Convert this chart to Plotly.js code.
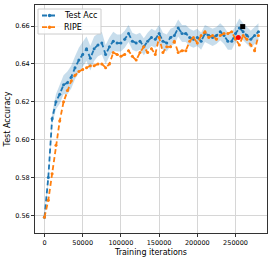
<!DOCTYPE html>
<html><head><meta charset="utf-8">
<script src="https://cdn.plot.ly/plotly-3.0.1.min.js"></script>
<style>html,body{margin:0;padding:0;background:#fff}</style>
</head><body><div id="chart" style="width:274px;height:257px"></div>
<script>
const iterations = [0,5000,10000,15000,20000,25000,30000,35000,40000,45000,50000,55000,60000,65000,70000,75000,80000,85000,90000,95000,100000,105000,110000,115000,120000,125000,130000,135000,140000,145000,150000,155000,160000,165000,170000,175000,180000,185000,190000,195000,200000,205000,210000,215000,220000,225000,230000,235000,240000,245000,250000,255000,260000,265000,270000,275000,280000];
const testAcc = [0.559,0.580,0.611,0.620,0.624,0.629,0.630,0.633,0.638,0.642,0.645,0.648,0.643,0.648,0.650,0.651,0.645,0.649,0.652,0.651,0.651,0.653,0.656,0.652,0.651,0.652,0.649,0.652,0.654,0.653,0.656,0.652,0.651,0.654,0.655,0.659,0.656,0.656,0.654,0.653,0.654,0.652,0.656,0.655,0.654,0.655,0.657,0.655,0.652,0.652,0.656,0.659,0.657,0.655,0.653,0.655,0.657];
const testAccStd = [0.001,0.002,0.003,0.004,0.005,0.005,0.006,0.006,0.006,0.0065,0.0065,0.0065,0.0065,0.0065,0.006,0.006,0.005,0.005,0.005,0.0045,0.0045,0.0045,0.0045,0.0045,0.0045,0.0045,0.0045,0.0045,0.0045,0.0045,0.0045,0.0045,0.0045,0.0045,0.0045,0.0045,0.0045,0.0045,0.0045,0.0045,0.0045,0.0045,0.0045,0.0045,0.0045,0.0045,0.0045,0.0045,0.0045,0.0045,0.0045,0.005,0.0045,0.0045,0.0045,0.0045,0.0045];
const ripe = [0.559,0.568,0.582,0.597,0.610,0.620,0.626,0.631,0.634,0.636,0.637,0.638,0.639,0.639,0.640,0.640,0.638,0.640,0.646,0.645,0.644,0.645,0.647,0.644,0.642,0.646,0.649,0.646,0.648,0.645,0.654,0.646,0.649,0.649,0.652,0.646,0.647,0.647,0.652,0.654,0.651,0.655,0.657,0.654,0.655,0.653,0.655,0.656,0.656,0.657,0.653,0.650,0.655,0.653,0.650,0.647,0.655];
const bestX = [259400], bestY = [0.6597];
const redX = [253700], redY = [0.654];
const legendLabels = ['Test Acc', 'RIPE'];

const blue = '#1f77b4', orange = '#ff7f0e';
const upper = testAcc.map((v,i)=>v+testAccStd[i]);
const lower = testAcc.map((v,i)=>v-testAccStd[i]);
const ff = 'DejaVu Sans, sans-serif';

const traces = [
  {x:iterations, y:upper, mode:'lines', line:{width:0,color:blue}, showlegend:false, hoverinfo:'skip'},
  {x:iterations, y:lower, mode:'lines', line:{width:0,color:blue}, fill:'tonexty', fillcolor:'rgba(31,119,180,0.25)', showlegend:false, hoverinfo:'skip'},
  {x:iterations, y:testAcc, name:legendLabels[0], mode:'lines+markers', line:{color:blue,width:1.8,dash:'5px,3px'}, marker:{color:blue,size:3}, showlegend:false},
  {x:iterations, y:ripe, name:legendLabels[1], mode:'lines+markers', line:{color:orange,width:1.8,dash:'5px,3px'}, marker:{color:orange,size:3}, showlegend:false},
  {x:redX, y:redY, mode:'markers', marker:{color:'red',size:5}, showlegend:false},
  {x:bestX, y:bestY, mode:'markers', marker:{color:'black',size:5,symbol:'square'}, showlegend:false}
];

// manual compact legend (paper coordinates)
const W = 232, H = 228; // plot area size in px
const px = v => v / W, py = v => v / H;
const shapes = [
  {type:'rect', xref:'paper', yref:'paper', x0:px(3), x1:px(66), y0:1-py(29), y1:1-py(4), line:{color:'#cccccc',width:1}, fillcolor:'rgba(255,255,255,0.85)', layer:'above'}
];
const annotations = [];
const colors = [blue, orange];
legendLabels.forEach((lab, i) => {
  const yc = 1 - py(10.5 + i*11.7);
  shapes.push({type:'line', xref:'paper', yref:'paper', x0:px(7), x1:px(22), y0:yc, y1:yc, line:{color:colors[i],width:1.8,dash:'5px,3px'}, layer:'above'});
  shapes.push({type:'circle', xref:'paper', yref:'paper', x0:px(12.8), x1:px(16.2), y0:yc-py(1.7), y1:yc+py(1.7), line:{color:colors[i],width:0}, fillcolor:colors[i], layer:'above'});
  annotations.push({xref:'paper', yref:'paper', x:px(27), y:yc, xanchor:'left', yanchor:'middle', text:lab, showarrow:false, font:{family:ff,size:8,color:'#000'}});
});

const layout = {
  width:274, height:257,
  margin:{l:35,r:7,t:5,b:24},
  paper_bgcolor:'#fff', plot_bgcolor:'#fff',
  font:{family:ff,color:'#000'},
  showlegend:false,
  shapes:shapes, annotations:annotations,
  xaxis:{range:[-12400,291200], tickvals:[0,50000,100000,150000,200000,250000], ticktext:['0','50000','100000','150000','200000','250000'],
    showgrid:true, gridcolor:'#d6d6d6', gridwidth:1, zeroline:false, showline:true, mirror:true, linecolor:'#333', linewidth:1,
    ticks:'outside', ticklen:3, tickcolor:'#333', tickfont:{family:ff,size:6.5,color:'#000'},
    title:{text:'Training iterations', font:{family:ff,size:8,color:'#000'}, standoff:3}},
  yaxis:{range:[0.5507,0.6711], tickvals:[0.56,0.58,0.60,0.62,0.64,0.66], ticktext:['0.56','0.58','0.60','0.62','0.64','0.66'],
    showgrid:true, gridcolor:'#d6d6d6', gridwidth:1, zeroline:false, showline:true, mirror:true, linecolor:'#333', linewidth:1,
    ticks:'outside', ticklen:3, tickcolor:'#333', tickfont:{family:ff,size:6.5,color:'#000'},
    title:{text:'Test Accuracy', font:{family:ff,size:8,color:'#000'}, standoff:3}}
};
Plotly.newPlot('chart', traces, layout, {staticPlot:true, displayModeBar:false});
</script></body></html>
